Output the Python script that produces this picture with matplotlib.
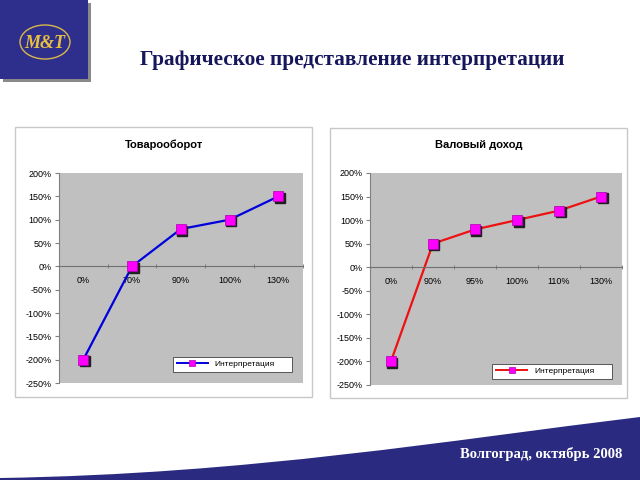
import numpy as np
import matplotlib
matplotlib.use("Agg")
import matplotlib.pyplot as plt
from matplotlib.patches import Rectangle, Ellipse, PathPatch
from matplotlib.path import Path
from matplotlib.transforms import offset_copy

plt.rcParams['font.family'] = ['Liberation Sans', 'DejaVu Sans']

# data
cats_left = ['0%', '70%', '90%', '100%', '130%']
vals_left = [-200, 0, 80, 100, 150]
cats_right = ['0%', '90%', '95%', '100%', '110%', '130%']
vals_right = [-200, 50, 80, 100, 120, 150]
y_ticks = list(range(-250, 201, 50))

NAVY = '#2a2a80'

fig = plt.figure(figsize=(6.4, 4.8), dpi=100)

# background layer in pixel coords
bg = fig.add_axes([0, 0, 1, 1])
bg.set_xlim(0, 640)
bg.set_ylim(480, 0)
bg.axis('off')

# logo
bg.add_patch(Rectangle((3, 3), 88, 79, color='#3a3a3a', alpha=0.6, lw=0))
bg.add_patch(Rectangle((0, 0), 88, 79, color='#2e2f8c', lw=0))
bg.add_patch(Ellipse((45, 42), 50, 34, fill=False, ec='#d9b84a', lw=1))
bg.text(45, 43, 'M&T', color='#e8c040', fontsize=13, fontweight='bold',
        fontstyle='italic', family='Liberation Serif', ha='center', va='center')

# page title
bg.text(352, 60, 'Графическое представление интерпретации', color='#16165c',
        fontsize=15.3, fontweight='bold', family='Liberation Serif',
        ha='center', va='center')

# footer swoosh
verts = [(0, 478), (250, 474), (450, 440), (640, 417), (640, 480), (0, 480), (0, 478)]
codes = [Path.MOVETO, Path.CURVE4, Path.CURVE4, Path.CURVE4,
         Path.LINETO, Path.LINETO, Path.CLOSEPOLY]
bg.add_patch(PathPatch(Path(verts, codes), color=NAVY, lw=0))
bg.text(622, 454, 'Волгоград, октябрь 2008', color='white', fontsize=10.5,
        fontweight='bold', family='Liberation Serif', ha='right', va='center')

# chart frames
bg.add_patch(Rectangle((15, 127), 297, 270, fill=False, ec='#c8c8c8', lw=1))
bg.add_patch(Rectangle((330, 128), 297, 270, fill=False, ec='#c8c8c8', lw=1))
bg.text(164, 145, 'Товарооборот', fontsize=8, fontweight='bold', ha='center', va='center')
bg.text(479, 145, 'Валовый доход', fontsize=8, fontweight='bold', ha='center', va='center')


def chart(rect, cats, vals, color, leg_box):
    ax = fig.add_axes(rect)
    ax.set_facecolor('#c0c0c0')
    x = np.arange(len(cats))
    ax.plot(x, vals, color=color, lw=1.6, zorder=2)
    # marker shadow
    shadow = offset_copy(ax.transData, fig=fig, x=1.5, y=-1.5, units='dots')
    ax.plot(x, vals, ls='none', marker='s', ms=6.5, mfc='#202020', mec='#202020',
            transform=shadow, zorder=3)
    ax.plot(x, vals, ls='none', marker='s', ms=6.5, mfc='#ff00ff', mec='#b000b0',
            mew=0.5, zorder=4)
    # legend entry
    ax.plot([], [], color=color, lw=1.4, marker='s', ms=5, mfc='#ff00ff',
            mec='#b000b0', mew=0.5, label='Интерпретация')
    ax.set_xlim(-0.5, len(cats) - 0.5)
    ax.set_ylim(-250, 200)
    ax.set_yticks(y_ticks)
    ax.set_yticklabels([f'{v}%' for v in y_ticks])
    ax.set_xticks(x)
    ax.set_xticklabels(cats)
    ax.set_xticks(np.arange(len(cats) + 1) - 0.5, minor=True)
    ax.spines['bottom'].set_position(('data', 0))
    for s in ['top', 'right']:
        ax.spines[s].set_visible(False)
    ax.spines['bottom'].set_color('#707070')
    ax.spines['left'].set_color('#808080')
    ax.spines['bottom'].set_linewidth(0.8)
    ax.spines['left'].set_linewidth(0.8)
    ax.tick_params(axis='x', which='major', length=0, pad=7, labelsize=6.5)
    ax.tick_params(axis='x', which='minor', length=3, direction='inout', color='#707070')
    ax.tick_params(axis='y', length=3, color='#808080', labelsize=6.5, pad=2)
    leg = ax.legend(loc='lower left', bbox_to_anchor=leg_box, mode='expand',
                    fontsize=6, fancybox=False, framealpha=1, edgecolor='#404040',
                    handlelength=3.8, borderpad=0.45, borderaxespad=0)
    leg.get_frame().set_linewidth(0.6)
    return ax


chart([0.092, 0.202, 0.381, 0.4375], cats_left, vals_left, '#0000dd',
      (0.467, 0.052, 0.488, 0.081))
chart([0.578, 0.198, 0.394, 0.4417], cats_right, vals_right, '#ee1111',
      (0.484, 0.028, 0.476, 0.076))

fig.savefig('out.png', dpi=100)
